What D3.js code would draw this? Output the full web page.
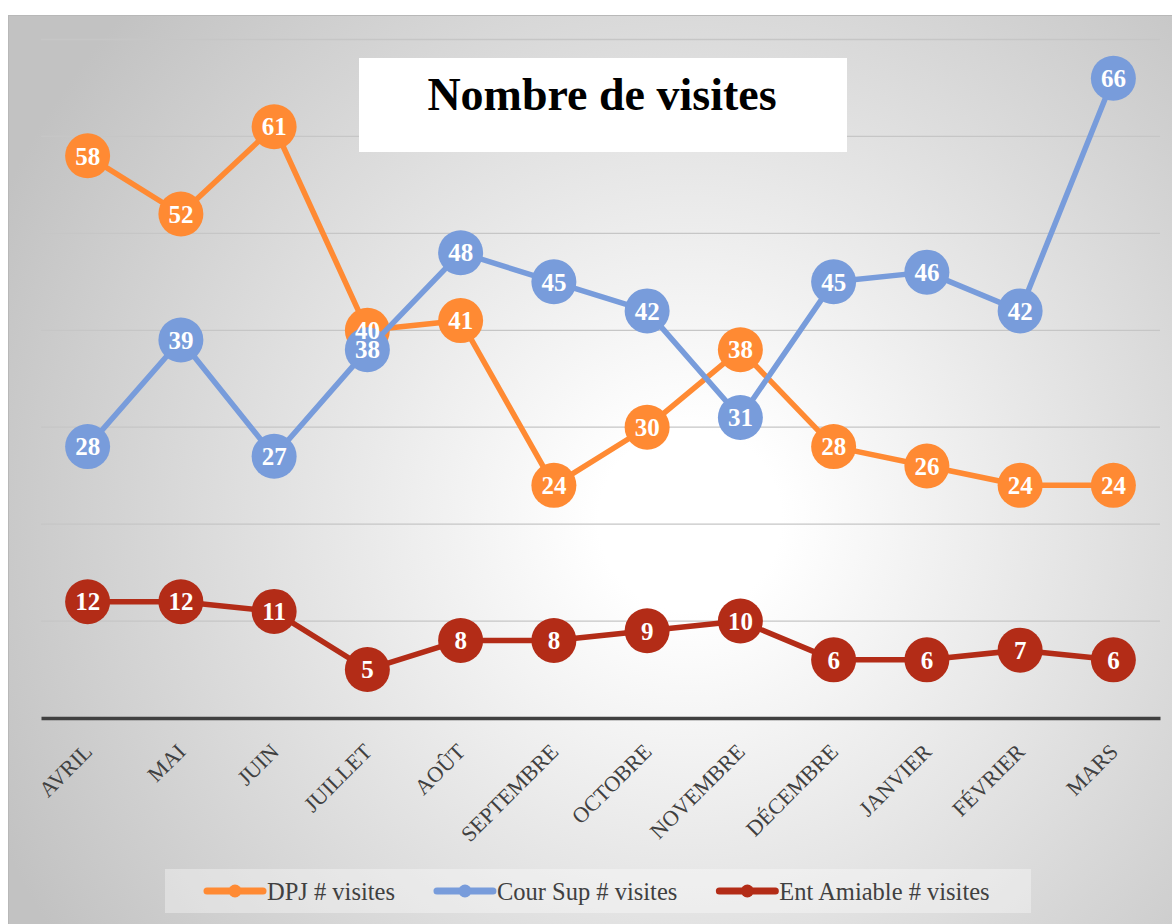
<!DOCTYPE html>
<html lang="fr">
<head>
<meta charset="UTF-8">
<title>Nombre de visites</title>
<style>
  body, html { margin: 0; padding: 0; background: #fff; }
  svg { display: block; }
</style>
</head>
<body>
<svg id="svg" width="1172" height="924"></svg>
<script src="https://cdn.jsdelivr.net/npm/d3@7"></script>
<script>
// data
const months = ['AVRIL', 'MAI', 'JUIN', 'JUILLET', 'AOÛT', 'SEPTEMBRE', 'OCTOBRE',
  'NOVEMBRE', 'DÉCEMBRE', 'JANVIER', 'FÉVRIER', 'MARS']
const dpj = [58, 52, 61, 40, 41, 24, 30, 38, 28, 26, 24, 24]
const courSup = [28, 39, 27, 38, 48, 45, 42, 31, 45, 46, 42, 66]
const entAmiable = [12, 12, 11, 5, 8, 8, 9, 10, 6, 6, 7, 6]
const seriesNames = ['DPJ # visites', 'Cour Sup # visites', 'Ent Amiable # visites']
const yTicks = [0, 10, 20, 30, 40, 50, 60, 70]

const colors = ['#ff8a33', '#789cdb', '#b32c17']
const series = [dpj, courSup, entAmiable].map((vals, i) => ({
  name: seriesNames[i], color: colors[i], values: vals
}))

const svg = d3.select('#svg')
const serif = '"Liberation Serif", "DejaVu Serif", serif'

// background panel with a radial grey gradient
const defs = svg.append('defs')
const grad = defs.append('radialGradient')
  .attr('id', 'bg')
  .attr('gradientUnits', 'userSpaceOnUse')
  .attr('cx', 690).attr('cy', 520).attr('r', 760)
grad.append('stop').attr('offset', 0).attr('stop-color', '#ffffff')
grad.append('stop').attr('offset', 0.12).attr('stop-color', '#ffffff')
grad.append('stop').attr('offset', 1).attr('stop-color', '#c2c2c2')

svg.append('rect')
  .attr('x', 8.5).attr('y', 15.5)
  .attr('width', 1180).attr('height', 920)
  .attr('fill', 'url(#bg)')
  .attr('stroke', '#b8b8b8')
  .attr('stroke-width', 1)

// scales
const x = d3.scaleBand().domain(months).range([41, 1160])
const cx = d => x(d) + x.bandwidth() / 2
const y = d3.scaleLinear().domain([0, 70]).range([718, 39.5])

// gridlines
svg.append('g')
  .selectAll('line')
  .data(yTicks.filter(t => t > 0))
  .join('line')
  .attr('x1', 41).attr('x2', 1160)
  .attr('y1', d => y(d)).attr('y2', d => y(d))
  .attr('stroke', '#c6c6c6')
  .attr('stroke-width', 1.3)

// category axis
const xAxis = svg.append('g')
  .attr('transform', `translate(0,${y(0)})`)
  .call(d3.axisBottom(x).tickSize(0).tickPadding(0))
xAxis.select('.domain')
  .attr('stroke', '#404040')
  .attr('stroke-width', 3.5)
xAxis.selectAll('.tick text')
  .attr('font-family', serif)
  .attr('font-size', 22)
  .attr('fill', '#404040')
  .attr('text-anchor', 'end')
  .attr('dy', 0)
  .attr('transform', 'translate(6,35) rotate(-45)')

// title box
svg.append('rect')
  .attr('x', 359).attr('y', 58)
  .attr('width', 488).attr('height', 94)
  .attr('fill', '#ffffff')
svg.append('text')
  .attr('x', 602).attr('y', 110)
  .attr('text-anchor', 'middle')
  .attr('font-family', serif)
  .attr('font-weight', 'bold')
  .attr('font-size', 46)
  .attr('fill', '#000')
  .text('Nombre de visites')

// lines and markers
const line = d3.line()
  .x((d, i) => cx(months[i]))
  .y(d => y(d))

series.forEach(s => {
  const g = svg.append('g')
  g.append('path')
    .attr('d', line(s.values))
    .attr('fill', 'none')
    .attr('stroke', s.color)
    .attr('stroke-width', 5.5)
    .attr('stroke-linejoin', 'round')
  g.selectAll('circle')
    .data(s.values)
    .join('circle')
    .attr('cx', (d, i) => cx(months[i]))
    .attr('cy', d => y(d))
    .attr('r', 22.5)
    .attr('fill', s.color)
})

// data labels on top
series.forEach(s => {
  svg.append('g')
    .selectAll('text')
    .data(s.values)
    .join('text')
    .attr('x', (d, i) => cx(months[i]))
    .attr('y', d => y(d))
    .attr('dy', '0.35em')
    .attr('text-anchor', 'middle')
    .attr('font-family', serif)
    .attr('font-weight', 'bold')
    .attr('font-size', 25)
    .attr('fill', '#ffffff')
    .text(d => d)
})

// legend
svg.append('rect')
  .attr('x', 165).attr('y', 869)
  .attr('width', 866).attr('height', 44)
  .attr('fill', '#ffffff')
  .attr('fill-opacity', 0.35)

const legend = svg.append('g')
let lx = 207
series.forEach(s => {
  const item = legend.append('g').attr('transform', `translate(${lx},891)`)
  item.append('line')
    .attr('x1', 0).attr('x2', 56)
    .attr('stroke', s.color)
    .attr('stroke-width', 7)
    .attr('stroke-linecap', 'round')
  item.append('circle')
    .attr('cx', 28).attr('r', 6.5)
    .attr('fill', s.color)
  const t = item.append('text')
    .attr('x', 60).attr('dy', '0.35em')
    .attr('font-family', serif)
    .attr('font-size', 24.5)
    .attr('fill', '#404040')
    .text(s.name)
  lx += 60 + t.node().getComputedTextLength() + 42
})
</script>
</body>
</html>
